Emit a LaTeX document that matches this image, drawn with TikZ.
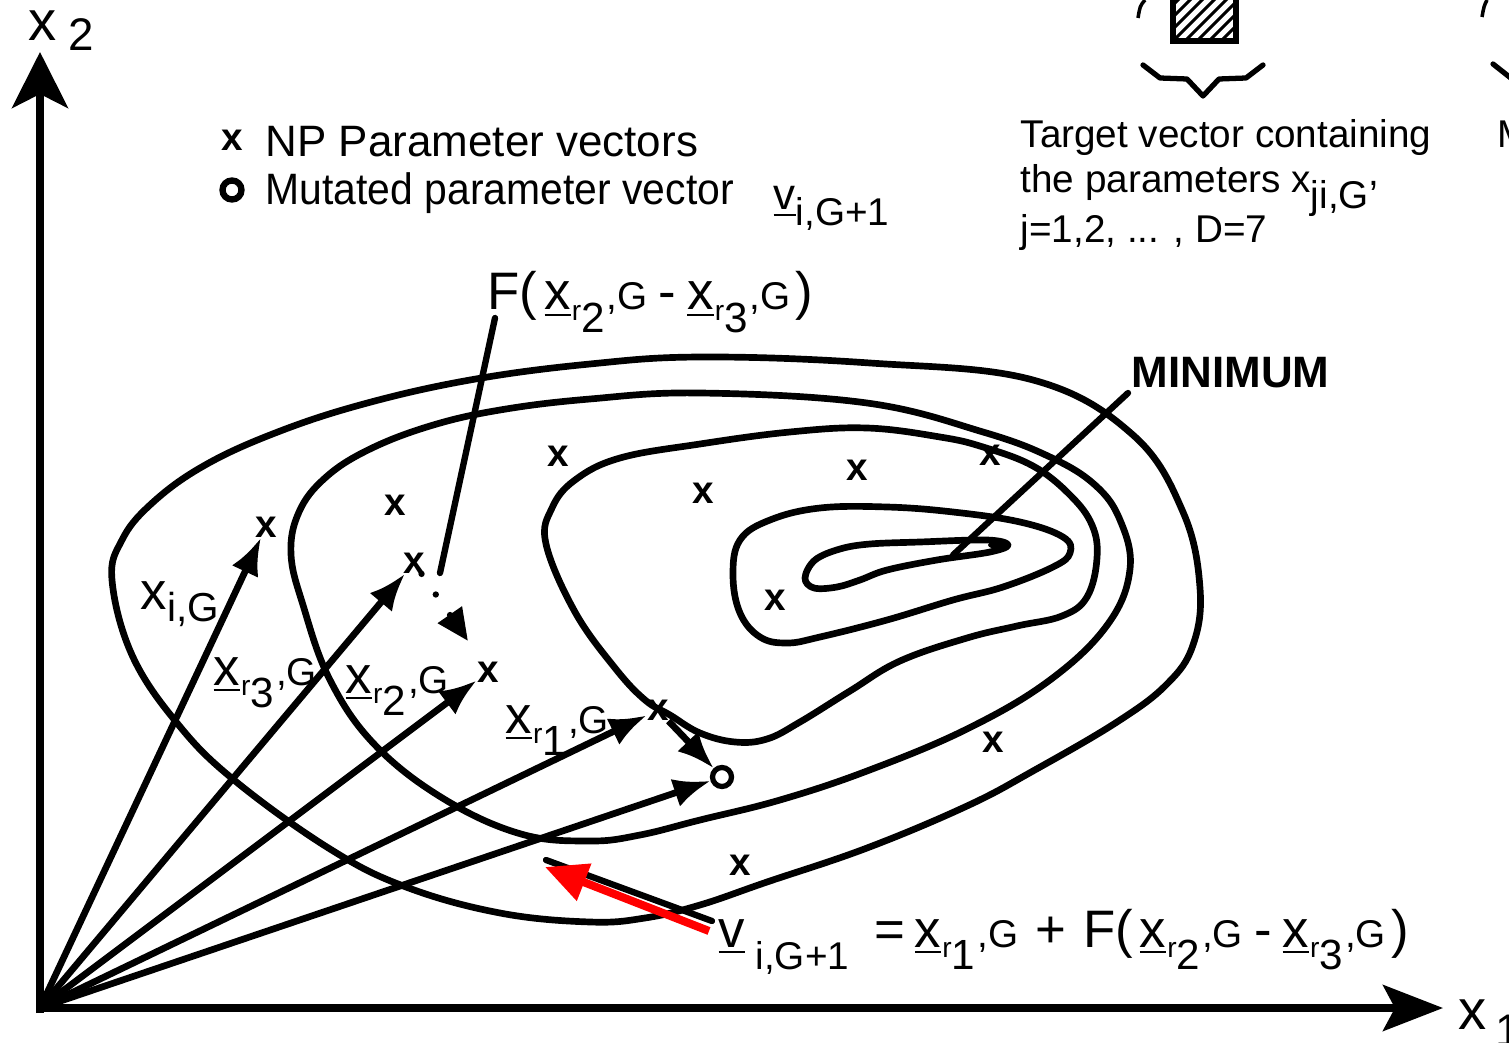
\documentclass[tikz,border=0pt]{standalone}
\usepackage{fontspec}
\usepackage{graphicx}
\setmainfont{Liberation Sans}
\usetikzlibrary{arrows.meta}
\newcommand\fsz[1]{\fontsize{#1}{#1}\selectfont}
\newcommand\xv[1]{\underline{x}\kern0.3pt\raisebox{-0.2em}{\fsz{8}r}\raisebox{-0.42em}{\fsz{12}#1}\kern0.6pt{\fsz{11},G}}
\begin{document}
\begin{tikzpicture}[x=0.01cm,y=-0.01cm,
  contour/.style={line width=1.9pt,line join=round},
  vec/.style={line width=1.9pt,-{Latex[length=0.37cm,width=0.29cm]}},
  axis/.style={line width=2pt},
  xmark/.style={font=\fsz{11}\bfseries,inner sep=0pt},
  lbl/.style={inner sep=0pt,anchor=base west},
  lead/.style={line width=1.8pt,line cap=round},
  ring/.style={circle,draw,line width=1.5pt,minimum size=0.19cm,inner sep=0pt}
]
\useasboundingbox (0,0) rectangle (1509,1043);
\clip (0,0) rectangle (1509,1043);

% ---------- contours ----------
\draw[contour] plot[smooth cycle,tension=0.65] coordinates {
 (112,580) (122,540) (150,505) (200,468) (270,435) (360,405) (470,380) (590,364)
 (703,357) (870,363) (1033,380) (1133,435) (1183,512) (1200,588) (1193,645)
 (1167,684) (1117,722) (1033,771) (967,806) (867,848) (767,882) (700,905)
 (645,918) (590,922) (500,913) (406,887) (330,849) (234,780) (177,723) (132,655)};
\draw[contour] plot[smooth cycle,tension=0.65] coordinates {
 (291,554) (299,512) (325,478) (368,450) (430,426) (500,410) (590,399) (700,393)
 (867,403) (983,432) (1050,457) (1095,485) (1120,520) (1130,569) (1108,624)
 (1050,680) (967,729) (867,771) (780,800) (700,820) (640,835) (590,841) (521,834)
 (444,799) (375,745) (330,680) (303,605)};
\draw[contour] plot[smooth cycle,tension=0.65] coordinates {
 (546,544) (552,508) (575,480) (620,458) (700,444) (790,432) (867,428) (940,437)
 (983,447) (1033,466) (1070,495) (1092,525) (1097,558) (1087,597) (1062,616)
 (1017,626) (967,638) (900,661) (850,691) (800,722) (767,739) (735,742) (700,733)
 (670,715) (645,700) (615,668) (575,612)};
\draw[contour] plot[smooth cycle,tension=0.65] coordinates {
 (733,575) (740,540) (770,520) (820,508) (887,507) (953,512) (1020,522) (1063,537)
 (1070,553) (1053,567) (1003,587) (953,600) (887,620) (820,637) (787,643) (760,637) (740,613)};
\draw[contour] plot[smooth cycle,tension=0.6] coordinates {
 (805,578) (815,560) (840,549) (870,544) (920,542) (987,540) (1008,545) (990,552)
 (937,560) (887,570) (860,580) (837,587) (814,588)};
\fill (998,545) ellipse [x radius=10, y radius=4];

% ---------- axes ----------
\coordinate (O) at (40,1008);
\coordinate (ybot) at (40,1013);
\coordinate (ytip) at (40,52);
\coordinate (xtip) at (1443,1008);
\draw[axis,-{Stealth[length=0.56cm,width=0.56cm,inset=0.14cm]}] (ybot) -- (ytip);
\draw[axis,-{Stealth[length=0.6cm,width=0.46cm,inset=0.12cm]}] (O) -- (xtip);
\node[lbl] (xtwo) at (28,41) {\fsz{16}x};
\node[lbl] (xtwos) at (68,51) {\fsz{13}2};
\node[lbl] (xone) at (1458,1029) {\fsz{16}x};
\node[lbl] (xones) at (1495,1046) {\fsz{13}1};

% ---------- population markers ----------
\node[xmark] (m1) at (558,456) {x};
\node[xmark] (m2) at (395,505) {x};
\node[xmark] (m3) at (703,493) {x};
\node[xmark] (m4) at (857,470) {x};
\node[xmark] (m5) at (990,455) {x};
\node[xmark] (m6) at (775,600) {x};
\node[xmark] (m7) at (993,742) {x};
\node[xmark] (m8) at (740,865) {x};
\node[xmark] (xi) at (266,527) {x};
\node[xmark] (xr3) at (414,563) {x};
\node[xmark] (xr2) at (488,672) {x};
\node[xmark] (xr1) at (658,710) {x};
\node[ring] (vn) at (722,777) {};

% ---------- vectors ----------
\draw[vec] (O) -- (xi);
\draw[vec] (O) -- (xr3);
\draw[vec] (O) -- (xr2);
\draw[vec] (O) -- (xr1);
\draw[vec] (O) -- (vn);
\draw[vec] (xr1) -- (vn);
\coordinate (dtip) at (468,641);
\draw[line width=1.8pt,line cap=round,dash pattern=on 0pt off 0.25cm,
      -{Triangle[length=0.32cm,width=0.28cm]}] (xr3) -- (dtip);

% ---------- vector labels ----------
\node[lbl] (lxi) at (140,610) {\fsz{15}x\raisebox{-0.22em}{\fsz{11.5}i,G}};
\node[lbl] (lxr3) at (213,685) {\fsz{15}\xv{3}};
\node[lbl] (lxr2) at (345,693) {\fsz{15}\xv{2}};
\node[lbl] (lxr1) at (505,733) {\fsz{15}\xv{1}};

% ---------- F label and leader ----------
\node[lbl] (flab) at (487,310) {\fsz{15}F(\kern2pt\xv{2}\hspace{0.11cm}-\hspace{0.11cm}\xv{3}\kern1.5pt)};
\coordinate (fst) at (495,318);
\coordinate (fend) at (440,573);
\draw[lead] (fst) -- (fend);

% ---------- MINIMUM ----------
\node[lbl] (minl) at (1131,388) {\fsz{12.5}\bfseries MINIMUM};
\coordinate (mst) at (1128,393);
\coordinate (mend) at (953,555);
\draw[lead] (mst) -- (mend);

% ---------- legend ----------
\node[xmark] (lgx) at (232,140) {x};
\node[lbl] (lg1) at (265,157) {\fsz{12.5}NP Parameter vectors};
\node[ring,minimum size=0.19cm,line width=1.8pt] (lgo) at (232,190) {};
\node[lbl] (lg2) at (265,205) {\fsz{12.5}\scalebox{0.93}[1]{Mutated parameter vector}};
\node[lbl] (lgv) at (773,210) {\fsz{12.5}\underline{v}\raisebox{-0.35em}{\fsz{11}i,G+1}};

% ---------- target vector ----------
\draw[line width=1.5pt] (1173,-5) rectangle (1236,41);
\begin{scope}
 \clip (1173,-5) rectangle (1236,41);
 \foreach \k in {-60,-48,...,72} \draw[line width=0.9pt] (1173+\k,41) -- ++(55,-55);
\end{scope}
\draw[line width=1.5pt,line join=round,line cap=round] (1143,65) -- (1160,78) -- (1187,79) -- (1203,96) -- (1219,79) -- (1246,78) -- (1263,65);
\draw[line width=1pt] (1145,0) .. controls (1140,6) .. (1138,18);
\draw[line width=1pt] (1487,0) .. controls (1484,6) .. (1482,17);
\draw[line width=1.5pt,line cap=round] (1493,64) -- (1512,79);
\node[lbl] (tv1) at (1020,148) {\fsz{11}Target vector containing};
\node[lbl] (tv2) at (1020,193) {\fsz{11}the parameters x\raisebox{-0.4em}{ji,G}\raisebox{0.2em}{,}};
\node[lbl] (tv3) at (1020,243) {\fsz{11}j=1,2, ... , D=7};
\node[lbl] (tvm) at (1497,148) {\fsz{11}M};

% ---------- trial vector formula ----------
\coordinate (bst) at (546,860);
\coordinate (bend) at (712,921);
\draw[line width=1.8pt,line cap=round] (bst) -- (bend);
\coordinate (rt) at (709,931);
\coordinate (rh) at (545,867);
\draw[red,line width=2.3pt,-{Triangle[length=0.42cm,width=0.38cm]}] (rt) -- (rh);
\node[lbl] (form) at (718,947) {\fsz{15}\underline{v}\kern3pt\raisebox{-0.42em}{\fsz{11}i,G+1}\hspace{0.25cm}=\hspace{0.1cm}\xv{1}\hspace{0.17cm}+\hspace{0.17cm}F(\kern2pt\xv{2}\hspace{0.11cm}-\hspace{0.11cm}\xv{3}\kern1.5pt)};
\end{tikzpicture}
\end{document}
